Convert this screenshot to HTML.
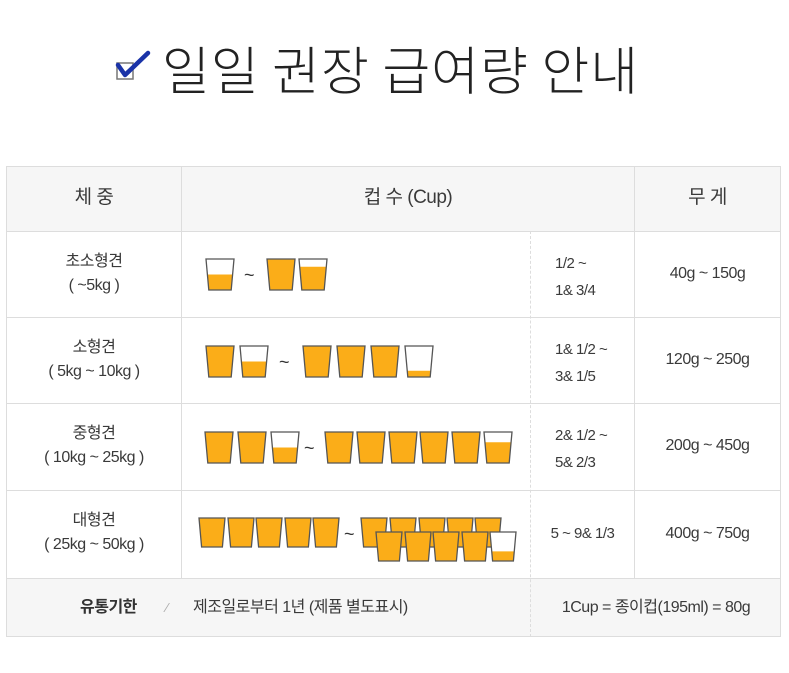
<!DOCTYPE html>
<html><head><meta charset="utf-8">
<style>
body{margin:0;width:789px;height:673px;background:#fff;position:relative;overflow:hidden;font-family:"Liberation Sans","Noto Sans CJK KR",sans-serif;color:#333}
.a{position:absolute}
.t{position:absolute;text-align:center;font-size:16px;line-height:24px;color:#3a3a3a;letter-spacing:-0.5px}
.hl{position:absolute;height:1px;background:#ddd}
.vl{position:absolute;width:1px;background:#ddd}
</style></head><body>
<div class="a" style="left:112px;top:38px;height:60px;">
<svg class="a" style="left:0;top:8px" width="44" height="44">
<rect x="5" y="17" width="16" height="16" fill="#fff" stroke="#777" stroke-width="1.5"/>
<path d="M6 19 L13 29 L36 7" fill="none" stroke="#1a33a8" stroke-width="4.5" stroke-linejoin="round" stroke-linecap="round"/>
</svg>
<div class="a" style="left:50px;top:-8px;font-size:52px;white-space:nowrap;color:#222;font-family:'Noto Sans CJK KR',sans-serif;font-weight:300;letter-spacing:1px">일일 권장 급여량 안내</div>
</div>

<div class="a" style="left:6px;top:166px;width:775px;height:471px;border:1px solid #ddd;box-sizing:border-box"></div>
<div class="a" style="left:7px;top:167px;width:773px;height:64px;background:#f6f6f6"></div>
<div class="a" style="left:7px;top:578px;width:773px;height:58px;background:#f6f6f6"></div>
<div class="hl" style="left:6px;top:231px;width:775px"></div>
<div class="hl" style="left:6px;top:317px;width:775px"></div>
<div class="hl" style="left:6px;top:403px;width:775px"></div>
<div class="hl" style="left:6px;top:490px;width:775px"></div>
<div class="hl" style="left:6px;top:578px;width:775px"></div>
<div class="vl" style="left:181px;top:166px;height:412px"></div>
<div class="vl" style="left:634px;top:166px;height:412px"></div>
<div class="a" style="left:530px;top:231px;height:406px;border-left:1px dashed #ddd"></div>

<div class="t" style="left:7px;top:186px;width:174px;font-size:19px">체 중</div>
<div class="t" style="left:182px;top:186px;width:452px;font-size:19px">컵 수 (Cup)</div>
<div class="t" style="left:635px;top:186px;width:145px;font-size:19px">무 게</div>

<div class="t" style="left:7px;top:250px;width:174px">초소형견<br>( ~5kg )</div>
<div class="t" style="left:7px;top:336px;width:174px">소형견<br>( 5kg ~ 10kg )</div>
<div class="t" style="left:7px;top:422px;width:174px">중형견<br>( 10kg ~ 25kg )</div>
<div class="t" style="left:7px;top:509px;width:174px">대형견<br>( 25kg ~ 50kg )</div>

<div class="t" style="left:555px;top:250px;text-align:left;line-height:27px;font-size:15px">1/2 ~<br>1&amp; 3/4</div>
<div class="t" style="left:555px;top:336px;text-align:left;line-height:27px;font-size:15px">1&amp; 1/2 ~<br>3&amp; 1/5</div>
<div class="t" style="left:555px;top:422px;text-align:left;line-height:27px;font-size:15px">2&amp; 1/2 ~<br>5&amp; 2/3</div>
<div class="t" style="left:531px;top:522px;width:103px;font-size:15px">5 ~ 9&amp; 1/3</div>

<div class="t" style="left:635px;top:262px;width:145px">40g ~ 150g</div>
<div class="t" style="left:635px;top:348px;width:145px">120g ~ 250g</div>
<div class="t" style="left:635px;top:434px;width:145px">200g ~ 450g</div>
<div class="t" style="left:635px;top:522px;width:145px">400g ~ 750g</div>

<div class="t" style="left:80px;top:596px;font-weight:bold;color:#333">유통기한</div>
<div class="t" style="left:166px;top:596px;color:#aaa;font-size:13px">⁄</div>
<div class="t" style="left:193px;top:596px;text-align:left;white-space:nowrap">제조일로부터 1년 (제품 별도표시)</div>
<div class="t" style="left:531px;top:596px;width:250px;white-space:nowrap">1Cup = 종이컵(195ml) = 80g</div>

<svg id="cups" class="a" style="left:0;top:0" width="789" height="673"></svg>
<script>
// fill fractions per cup for each row
const row1Fills=[0.5,1,0.75];
const row2Fills=[1,0.5,1,1,1,0.2];
const row3Fills=[1,1,0.5,1,1,1,1,1,0.67];
const row4Fills=[1,1,1,1,1,1,1,1,1,1,1,1,1,1,0.33];
const NS="http://www.w3.org/2000/svg";
const svg=document.getElementById('cups');
function cup(x,y,w,h,f){
  const g=document.createElementNS(NS,'g');
  
  
  const i=w*0.1;
  const lx=t=>x+i*t, rx=t=>x+w-i*t;
  const bg=document.createElementNS(NS,'polygon');
  bg.setAttribute('points',`${x},${y} ${x+w},${y} ${x+w-i},${y+h} ${x+i},${y+h}`);
  bg.setAttribute('fill','#fff');g.appendChild(bg);
  const t0=1-f, fy=y+h*t0;
  const p=document.createElementNS(NS,'polygon');
  p.setAttribute('points',`${lx(t0)},${fy} ${rx(t0)},${fy} ${x+w-i},${y+h} ${x+i},${y+h}`);
  p.setAttribute('fill','#fbad18');g.appendChild(p);
  const o=document.createElementNS(NS,'polygon');
  o.setAttribute('points',`${x},${y} ${x+w},${y} ${x+w-i},${y+h} ${x+i},${y+h}`);
  o.setAttribute('fill','none');o.setAttribute('stroke','#555');o.setAttribute('stroke-width','1.3');
  g.appendChild(o);svg.appendChild(g);
}
function tilde(x,y){
  const t=document.createElementNS(NS,'text');
  
  
  t.setAttribute('x',x);t.setAttribute('y',y);t.setAttribute('font-size','18');t.setAttribute('fill','#333');
  t.setAttribute('font-family','Liberation Sans, sans-serif');t.textContent='~';svg.appendChild(t);
}
[206,267,299].forEach((x,k)=>cup(x,259,28,31,row1Fills[k]));tilde(244,281);
[206,240,303,337,371,405].forEach((x,k)=>cup(x,346,28,31,row2Fills[k]));tilde(279,368);
[205,238,271,325,357,389,420,452,484].forEach((x,k)=>cup(x,432,28,31,row3Fills[k]));tilde(304,454);
[199,228,256,285,313].forEach((x,k)=>cup(x,518,26,29,row4Fills[k]));tilde(344,540);
[361,390,419,447,475].forEach((x,k)=>cup(x,518,26,29,row4Fills[5+k]));
[376,405,433,462,490].forEach((x,k)=>cup(x,532,26,29,row4Fills[10+k]));
</script>
</body></html>
